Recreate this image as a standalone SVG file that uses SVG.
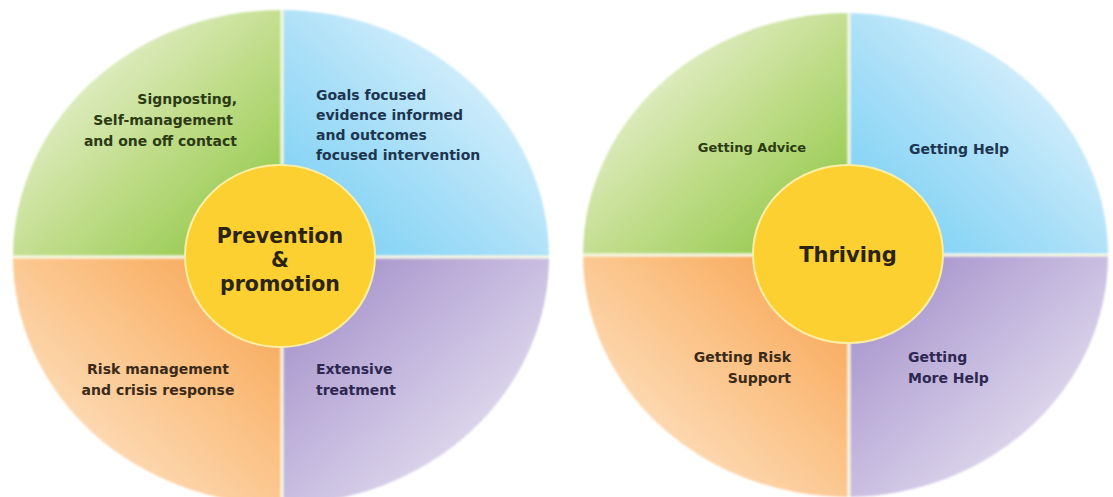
<svg xmlns="http://www.w3.org/2000/svg" width="1113" height="497" viewBox="0 0 1113 497">
<style>
.t{font-family:"DejaVu Sans","Liberation Sans",sans-serif;font-weight:bold;font-size:14px}
.c{font-family:"DejaVu Sans","Liberation Sans",sans-serif;font-weight:bold;font-size:20.5px;fill:#2b2414;text-anchor:middle}
.g{fill:#2c3a14}.b{fill:#1d3550}.o{fill:#3a2a18}.p{fill:#2d2752}
.div{stroke:#f8f9e4;stroke-width:3}
.hub{fill:#fcd031;stroke:#fbeea6;stroke-width:2}
</style>
<defs>
<filter id="soft" x="-5%" y="-5%" width="110%" height="110%"><feGaussianBlur stdDeviation="1.2"/></filter>
<linearGradient id="gG" x1="0" y1="0" x2="1" y2="1"><stop offset="0.1" stop-color="#f1f5e2"/><stop offset="0.55" stop-color="#bfdc88"/><stop offset="1" stop-color="#86c43a"/></linearGradient>
<linearGradient id="gB" x1="1" y1="0" x2="0" y2="1"><stop offset="0.1" stop-color="#e8f5fc"/><stop offset="0.55" stop-color="#a9dff8"/><stop offset="1" stop-color="#6ecdf4"/></linearGradient>
<linearGradient id="gO" x1="0" y1="1" x2="1" y2="0"><stop offset="0.1" stop-color="#fee6cc"/><stop offset="0.55" stop-color="#fbc48a"/><stop offset="1" stop-color="#f6a049"/></linearGradient>
<linearGradient id="gP" x1="1" y1="1" x2="0" y2="0"><stop offset="0.1" stop-color="#ebe8f3"/><stop offset="0.55" stop-color="#c4b8de"/><stop offset="1" stop-color="#9c86c5"/></linearGradient>
</defs>
<rect width="1113" height="497" fill="#ffffff"/>

<g id="left-wheel" filter="url(#soft)">
<path d="M281,257 L13,257 A268,247 0 0 1 281,10 Z" fill="url(#gG)"/>
<path d="M281,257 L281,10 A268,247 0 0 1 549,257 Z" fill="url(#gB)"/>
<path d="M281,257 L549,257 A268,247 0 0 1 281,504 Z" fill="url(#gP)"/>
<path d="M281,257 L281,504 A268,247 0 0 1 13,257 Z" fill="url(#gO)"/>
<line class="div" x1="282" y1="10" x2="282" y2="504"/>
<line class="div" x1="13" y1="257" x2="549" y2="257"/>
</g>
<g id="left-hub">
<ellipse class="hub" cx="280" cy="256" rx="95" ry="91"/>
<text class="c" x="280" y="243">Prevention</text>
<text class="c" x="280" y="267">&amp;</text>
<text class="c" x="280" y="291">promotion</text>
</g>
<g id="signposting">
<text class="t g" text-anchor="end" x="237" y="104">Signposting,</text>
<text class="t g" text-anchor="end" x="233" y="125">Self-management</text>
<text class="t g" text-anchor="end" x="237" y="146">and one off contact</text>
</g>
<g id="goals">
<text class="t b" x="316" y="100">Goals focused</text>
<text class="t b" x="316" y="120">evidence informed</text>
<text class="t b" x="316" y="140">and outcomes</text>
<text class="t b" x="316" y="160">focused intervention</text>
</g>
<g id="risk">
<text class="t o" text-anchor="middle" x="158" y="374">Risk management</text>
<text class="t o" text-anchor="middle" x="158" y="395">and crisis response</text>
</g>
<g id="extensive">
<text class="t p" x="316" y="374">Extensive</text>
<text class="t p" x="316" y="395">treatment</text>
</g>

<g id="right-wheel" filter="url(#soft)">
<path d="M848,255 L583,255 A265,242 0 0 1 848,13 Z" fill="url(#gG)"/>
<path d="M848,255 L848,13 A265,242 0 0 1 1108,255 Z" fill="url(#gB)"/>
<path d="M848,255 L1108,255 A262,242 0 0 1 848,497 Z" fill="url(#gP)"/>
<path d="M848,255 L848,497 A265,242 0 0 1 583,255 Z" fill="url(#gO)"/>
<line class="div" x1="849" y1="13" x2="849" y2="497"/>
<line class="div" x1="583" y1="255" x2="1108" y2="255"/>
</g>
<g id="right-hub">
<ellipse class="hub" cx="848" cy="254" rx="95" ry="89"/>
<text class="c" x="848" y="262" style="font-size:21px">Thriving</text>
</g>
<g id="getting-advice">
<text class="t g" text-anchor="middle" x="752" y="152" style="font-size:13px">Getting Advice</text>
</g>
<g id="getting-help">
<text class="t b" text-anchor="middle" x="959" y="154">Getting Help</text>
</g>
<g id="getting-risk-support">
<text class="t o" text-anchor="end" x="791" y="362">Getting Risk</text>
<text class="t o" text-anchor="end" x="791" y="383">Support</text>
</g>
<g id="getting-more-help">
<text class="t p" x="908" y="362">Getting</text>
<text class="t p" x="908" y="383">More Help</text>
</g>
</svg>
